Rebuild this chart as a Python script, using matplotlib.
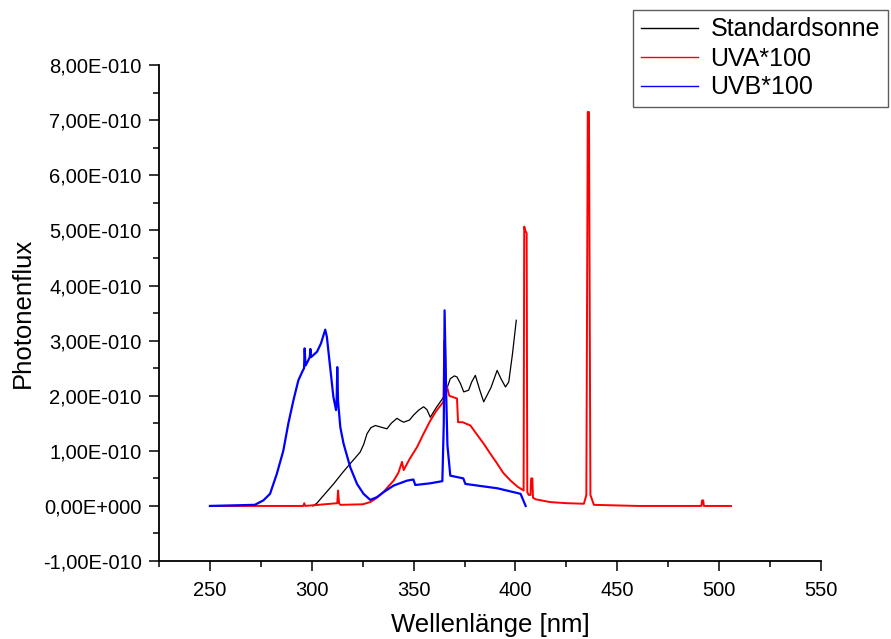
import matplotlib.pyplot as plt
from matplotlib.ticker import MultipleLocator, FixedLocator

plt.rcParams['font.family'] = ['Liberation Sans', 'DejaVu Sans']

# Standardsonne (nm, Photonenflux in 1e-10)
sun_x = [300.6, 302.5, 306.0, 310.7, 315.0, 318.9, 321.5, 323.8, 325.5, 327.1, 329.0, 331.2,
         334.0, 336.9, 339.0, 341.8, 343.5, 345.1, 348.0, 350.0, 352.5, 354.9, 356.5, 358.2,
         361.0, 364.8, 366.5, 368.0, 370.0, 371.3, 373.0, 374.6, 377.0, 378.5, 380.3, 382.5,
         384.4, 388.0, 391.0, 393.0, 395.1, 396.7, 398.5, 400.4]
sun_y = [0.0, 0.05, 0.2, 0.4, 0.6, 0.77, 0.88, 0.98, 1.12, 1.31, 1.42, 1.46,
         1.43, 1.40, 1.50, 1.59, 1.55, 1.52, 1.56, 1.65, 1.74, 1.80, 1.75, 1.61,
         1.78, 1.98, 2.15, 2.31, 2.36, 2.34, 2.22, 2.07, 2.10, 2.25, 2.37, 2.10,
         1.89, 2.15, 2.46, 2.30, 2.16, 2.25, 2.75, 3.37]

# UVA*100
uva_x = [250.0, 295.8, 296.3, 296.8, 312.5, 312.9, 313.4, 314.0, 325.0, 328.7, 332.0, 335.2,
         337.5, 340.2, 342.5, 344.3, 345.1, 348.0, 351.7, 355.0, 358.2, 361.0, 364.0, 364.7,
         365.0, 365.4, 365.8, 366.4, 367.5, 371.3, 371.8, 374.0, 377.9, 381.0, 384.4, 388.0,
         391.0, 394.0, 397.6, 401.0, 404.0, 404.3, 404.8, 405.5, 405.8, 406.5, 407.4, 407.7,
         408.3, 408.6, 410.0, 417.0, 425.0, 433.6, 434.8, 435.5, 436.1, 436.8, 438.5, 460.0,
         491.3, 491.6, 492.2, 492.5, 505.8]
uva_y = [0.0, 0.0, 0.05, 0.0, 0.05, 0.28, 0.05, 0.02, 0.03, 0.07, 0.15, 0.25,
         0.35, 0.46, 0.6, 0.80, 0.65, 0.85, 1.07, 1.32, 1.55, 1.72, 1.86, 1.90,
         3.0, 3.0, 2.2, 2.16, 2.0, 1.95, 1.52, 1.52, 1.46, 1.30, 1.13, 0.93,
         0.77, 0.60, 0.46, 0.35, 0.28, 5.07, 5.0, 4.95, 0.25, 0.2, 0.2, 0.5,
         0.5, 0.15, 0.12, 0.07, 0.05, 0.04, 0.2, 7.15, 7.15, 0.2, 0.02, 0.0,
         0.0, 0.1, 0.1, 0.0, 0.0]

# UVB*100
uvb_x = [250.0, 272.0, 276.2, 279.5, 282.8, 286.0, 288.5, 291.0, 293.4, 295.5, 296.2, 296.5,
         296.9, 297.7, 299.0, 299.3, 299.6, 302.6, 304.5, 306.6, 307.4, 309.0, 310.6, 311.9,
         312.2, 312.5, 312.9, 314.0, 315.6, 318.9, 322.2, 325.4, 328.7, 332.0, 335.2, 340.2,
         346.8, 349.9, 350.8, 358.0, 364.1, 364.8, 365.2, 366.0, 366.6, 368.0, 374.4, 375.4,
         391.2, 402.5, 405.0]
uvb_y = [0.0, 0.02, 0.1, 0.22, 0.58, 1.0, 1.5, 1.92, 2.28, 2.45, 2.5, 2.86,
         2.55, 2.6, 2.7, 2.85, 2.7, 2.8, 2.95, 3.2, 3.07, 2.52, 1.98, 1.74,
         1.9, 2.52, 1.9, 1.43, 1.13, 0.7, 0.4, 0.22, 0.11, 0.16, 0.25, 0.37,
         0.46, 0.48, 0.38, 0.41, 0.45, 1.5, 3.55, 2.0, 1.1, 0.55, 0.5, 0.4,
         0.32, 0.22, 0.0]

y_ticks = [-1, 0, 1, 2, 3, 4, 5, 6, 7, 8]
y_labels = ['-1,00E-010', '0,00E+000', '1,00E-010', '2,00E-010', '3,00E-010',
            '4,00E-010', '5,00E-010', '6,00E-010', '7,00E-010', '8,00E-010']
x_ticks = [250, 300, 350, 400, 450, 500, 550]

scale = 1e-10

fig = plt.figure(figsize=(8.91, 6.39), dpi=100)
ax = fig.add_axes([0.1785, 0.122, 0.7429, 0.776])

ax.plot(sun_x, [v * scale for v in sun_y], color='black', lw=0.9, label='Standardsonne')
ax.plot(uva_x, [v * scale for v in uva_y], color='#ff0000', lw=1.4, label='UVA*100')
ax.plot(uvb_x, [v * scale for v in uvb_y], color='#0000ff', lw=1.6, label='UVB*100')

ax.set_xlim(225, 550)
ax.set_ylim(-1e-10, 8e-10)

for s in ['top', 'right']:
    ax.spines[s].set_visible(False)
for s in ['left', 'bottom']:
    ax.spines[s].set_linewidth(1.3)

ax.xaxis.set_major_locator(FixedLocator(x_ticks))
ax.xaxis.set_minor_locator(MultipleLocator(50, offset=25))
ax.set_yticks([v * scale for v in y_ticks])
ax.set_yticklabels(y_labels)
ax.yaxis.set_minor_locator(MultipleLocator(0.5e-10))

ax.tick_params(which='major', direction='out', length=7.5, width=1.1, labelsize=14.5)
ax.tick_params(which='minor', direction='out', length=4, width=1.1)
ax.tick_params(axis='x', pad=7)
ax.tick_params(axis='y', pad=5)

ax.set_xlabel('Wellenlänge [nm]', fontsize=18.5, labelpad=9)
ax.set_ylabel('Photonenflux', fontsize=18.5, labelpad=6)

leg = fig.legend(loc='upper left', bbox_to_anchor=(633 / 891, 1 - 10 / 639), fontsize=18,
                 frameon=True, fancybox=False, borderaxespad=0, borderpad=0.3,
                 handlelength=2.3, handletextpad=0.5, labelspacing=0.2)
leg.get_frame().set_edgecolor('#333333')
leg.get_frame().set_linewidth(1.0)
for line in leg.get_lines():
    line.set_linewidth(1.0)

fig.savefig('out.png', dpi=100)
